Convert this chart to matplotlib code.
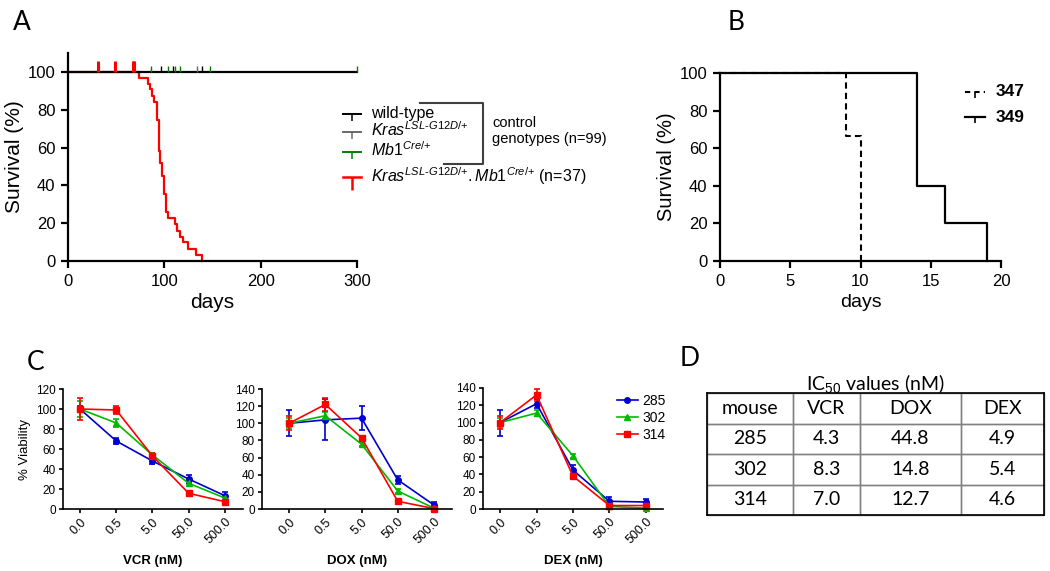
import numpy as np
import matplotlib
matplotlib.use("Agg")
import matplotlib.pyplot as plt
from matplotlib.lines import Line2D

plt.rcParams["font.family"] = ["Liberation Sans", "DejaVu Sans"]
plt.rcParams["mathtext.fontset"] = "custom"
plt.rcParams["mathtext.rm"] = "Liberation Sans"
plt.rcParams["mathtext.it"] = "Liberation Sans:italic"
plt.rcParams["mathtext.bf"] = "Liberation Sans:bold"

# ---------------- data ----------------
# panel A: Kaplan-Meier, Kras.Mb1 (red) steps
red_times = [0, 74, 83, 85.5, 87.5, 89, 92, 94, 95.5, 97.5, 100, 102, 104,
             111, 113.5, 116, 119, 125, 132.5, 139.5]
red_surv = [100, 96.8, 93.8, 90.7, 87.3, 84, 74.5, 58, 51.6, 45, 35.4, 25.7,
            22.5, 19.4, 16, 12.9, 9.9, 6.3, 3.2, 0]
red_censor_t = [31, 48.5, 67.5, 68.5]
red_censor_s = [100, 100, 100, 100]
green_censor_t = [86, 104, 111.5, 116, 147, 300]
black_censor_t = [97, 109, 139]
gray_censor_t = [134]
control_end = 300

legend_a = ["wild-type",
            "$\\mathit{Kras}^{\\mathit{LSL\u2010G12D/{+}}}$",
            "$\\mathit{Mb1}^{\\mathit{Cre/{+}}}$",
            "$\\mathit{Kras}^{\\mathit{LSL\u2010G12D/{+}}}\\mathit{.Mb1}^{\\mathit{Cre/{+}}}$ (n=37)"]
legend_a_colors = ["black", "dimgray", "green", "red"]

# panel B
t347 = [0, 9, 10]
s347 = [100, 66.7, 0]
t349 = [0, 14, 16, 19]
s349 = [100, 40, 20, 0]

# panel C: viability per drug
doses = ["0.0", "0.5", "5.0", "50.0", "500.0"]
mice = ["285", "302", "314"]
mouse_colors = ["#0000cc", "#00bb00", "#ff0000"]
mouse_markers = ["o", "^", "s"]
drugs = ["VCR", "DOX", "DEX"]
vcr_mean = [[100, 68, 48, 30, 13.3], [100, 86, 54, 25.7, 11], [100, 99, 53, 15.7, 7.3]]
vcr_err = [[3, 3, 3, 4, 4], [8, 4, 2, 2, 2], [11, 4, 3, 2, 2]]
dox_mean = [[100, 104, 106, 34, 4.7], [100, 108.8, 75.6, 21, 1], [100, 122, 83, 9, 0.5]]
dox_err = [[15, 24, 14, 5, 4], [6, 4, 2, 2, 1], [8, 8, 2, 2, 1]]
dex_mean = [[100, 121.8, 45, 8.9, 8.1], [100, 111, 61.5, 3, 1], [100, 132, 38, 4, 4]]
dex_err = [[15, 5, 6, 5, 4], [5, 3, 2, 1, 1], [8, 7, 3, 2, 2]]
drug_means = [vcr_mean, dox_mean, dex_mean]
drug_errs = [vcr_err, dox_err, dex_err]
drug_ymax = [120, 140, 140]

# panel D: IC50 table
table_header = ["mouse", "VCR", "DOX", "DEX"]
table_rows = [["285", "4.3", "44.8", "4.9"],
              ["302", "8.3", "14.8", "5.4"],
              ["314", "7.0", "12.7", "4.6"]]

# ---------------- figure ----------------
W, H = 1050, 571
fig = plt.figure(figsize=(W / 100, H / 100), dpi=100)


def px_axes(x0, y0, x1, y1):
    # axes from pixel box (top-left origin)
    return fig.add_axes([x0 / W, 1 - y1 / H, (x1 - x0) / W, (y1 - y0) / H])


def style_km(ax):
    for s in ["top", "right"]:
        ax.spines[s].set_visible(False)
    for s in ["left", "bottom"]:
        ax.spines[s].set_linewidth(1.6)
    ax.tick_params(direction="out", width=1.6, length=5, labelsize=12, pad=4)


# panel A
ax_a = px_axes(68, 53, 357, 261)
ax_a.step(red_times, red_surv, where="post", color="red", lw=1.6, zorder=2)
ax_a.plot(red_censor_t, red_censor_s, ls="none", marker=2, ms=8, mew=2.2,
          color="red", zorder=4)
ax_a.plot([0, control_end], [100, 100], color="black", lw=1.6, zorder=3)
ax_a.plot(green_censor_t, [100] * len(green_censor_t), ls="none", marker=2,
          ms=4, mew=1, color="green", zorder=4)
ax_a.plot(black_censor_t, [100] * len(black_censor_t), ls="none", marker=2,
          ms=4, mew=1, color="black", zorder=4)
ax_a.plot(gray_censor_t, [100] * len(gray_censor_t), ls="none", marker=2,
          ms=4, mew=1, color="dimgray", zorder=4)
ax_a.set_xlim(0, 300)
ax_a.set_ylim(0, 110)
ax_a.set_xticks([0, 100, 200, 300])
ax_a.set_yticks([0, 20, 40, 60, 80, 100])
ax_a.set_xlabel("days", fontsize=15, labelpad=3)
ax_a.set_ylabel("Survival (%)", fontsize=15, labelpad=3)
style_km(ax_a)
ax_a.spines["bottom"].set_zorder(5)
for ln in ax_a.lines:
    ln.set_clip_on(False)

# panel B
ax_b = px_axes(720, 73, 1001, 261)
ax_b.step(t347, s347, where="post", color="black", lw=1.5, ls=(0, (3, 2)))
ax_b.step(t349, s349, where="post", color="black", lw=1.6)
ax_b.set_xlim(0, 20)
ax_b.set_ylim(0, 100)
ax_b.set_xticks([0, 5, 10, 15, 20])
ax_b.set_yticks([0, 20, 40, 60, 80, 100])
ax_b.set_xlabel("days", fontsize=14, labelpad=4)
ax_b.set_ylabel("Survival (%)", fontsize=14.5, labelpad=3)
style_km(ax_b)
for ln in ax_b.lines:
    ln.set_clip_on(False)

# panel C
c_boxes = [(63, 389, 243, 509), (262, 389, 452, 509), (483, 388, 663, 509)]
c_xlims = [(-0.47, 4.5), (-0.75, 4.5), (-0.47, 4.47)]
axes_c = []
for d, drug in enumerate(drugs):
    ax = px_axes(*c_boxes[d])
    xs = np.arange(len(doses))
    for m, mouse in enumerate(mice):
        ax.errorbar(xs, drug_means[d][m], yerr=drug_errs[d][m],
                    color=mouse_colors[m], marker=mouse_markers[m], ms=4,
                    lw=1.2, elinewidth=1.2, capsize=2, capthick=1.2,
                    label=mouse, clip_on=False)
    ax.set_xlim(*c_xlims[d])
    ax.set_ylim(0, drug_ymax[d])
    ax.set_yticks(np.arange(0, drug_ymax[d] + 1, 20))
    ax.set_xticks(xs)
    ax.set_xticklabels(doses, rotation=45, ha="right", rotation_mode="anchor",
                       fontsize=9)
    ax.set_xlabel(drug + " (nM)", fontsize=9.5, fontweight="bold", labelpad=6)
    for s in ["top", "right"]:
        ax.spines[s].set_visible(False)
    for s in ["left", "bottom"]:
        ax.spines[s].set_linewidth(1.2)
    ax.tick_params(direction="out", width=1.2, length=3, pad=2)
    ax.tick_params(axis="y", labelsize=8.5)
    axes_c.append(ax)
axes_c[0].set_ylabel("% Viability", fontsize=9.5, labelpad=4)
handles = [Line2D([0], [0], color=mouse_colors[m], marker=mouse_markers[m],
                  ms=4, lw=1.2) for m in range(len(mice))]
axes_c[2].legend(handles, mice, loc="upper left", frameon=False,
                 bbox_to_anchor=((617 - 483) / 180, 1 - (394 - 388) / 121),
                 borderpad=0, borderaxespad=0, handlelength=1.5,
                 handletextpad=0.35, labelspacing=0.2, fontsize=10)

# panel D table
ax_d = px_axes(707, 393, 1044, 515)
col_px = [86, 67, 101, 83]
tbl = ax_d.table(cellText=[table_header] + table_rows, cellLoc="center",
                 colWidths=[c / sum(col_px) for c in col_px], bbox=[0, 0, 1, 1])
tbl.auto_set_font_size(False)
for (r, c), cell in tbl.get_celld().items():
    cell.set_edgecolor("#808080")
    cell.set_linewidth(1.0)
    cell.set_facecolor("none")
    cell.get_text().set_fontsize(14)
    cell.get_text().set_fontfamily("Lato")
tbl.set_zorder(1)
ax_d.set_xticks([])
ax_d.set_yticks([])
for s in ax_d.spines.values():
    s.set_linewidth(1.2)
    s.set_zorder(3)
ax_d.text(0.5, 1 + 3 / 122, "IC$_{50}$ values (nM)", transform=ax_d.transAxes,
          ha="center", va="baseline", fontsize=14, fontfamily="Lato")

# overlay in pixel space for legends / labels
ov = fig.add_axes([0, 0, 1, 1])
ov.set_xlim(0, W)
ov.set_ylim(H, 0)
ov.axis("off")

for lab, x, y in [("A", 22, 22), ("B", 736, 22), ("C", 36, 362), ("D", 690, 359)]:
    ov.text(x, y, lab, fontsize=19, fontfamily="Lato", ha="center", va="center")

# panel A legend
rows_y = [114, 132, 152, 177]
rows_base = [118, 136, 156, 182]
for i, lab in enumerate(legend_a):
    col = legend_a_colors[i]
    big = i == 3
    ov.plot([343, 361], [rows_y[i], rows_y[i]], color=col,
            lw=1.8 if big else 1.4)
    ov.plot([352], [rows_y[i]], marker=3, ms=9 if big else 5,
            mew=1.8 if big else 1.1, color=col)
    ov.text(371, rows_base[i], lab, fontsize=11.5, ha="left", va="baseline")
ov.plot([420, 483, 483, 444], [103, 103, 164, 164], color="#404040", lw=1.5)
ov.text(492, 123, "control", fontsize=10.5, ha="left", va="center")
ov.text(492, 139, "genotypes (n=99)", fontsize=10.5, ha="left", va="center")

# panel B legend
ov.plot([965, 985], [92, 92], color="black", lw=1.5, ls=(0, (2.5, 2)))
ov.plot([975], [92], marker=3, ms=4, mew=1.2, color="black")
ov.plot([965, 985], [117, 117], color="black", lw=1.6)
ov.plot([975], [117], marker=3, ms=4, mew=1.2, color="black")
ov.text(996, 92, "347", fontsize=12.5, fontweight="bold", ha="left", va="center")
ov.text(996, 117, "349", fontsize=12.5, fontweight="bold", ha="left", va="center")

fig.savefig("out.png", dpi=100)
